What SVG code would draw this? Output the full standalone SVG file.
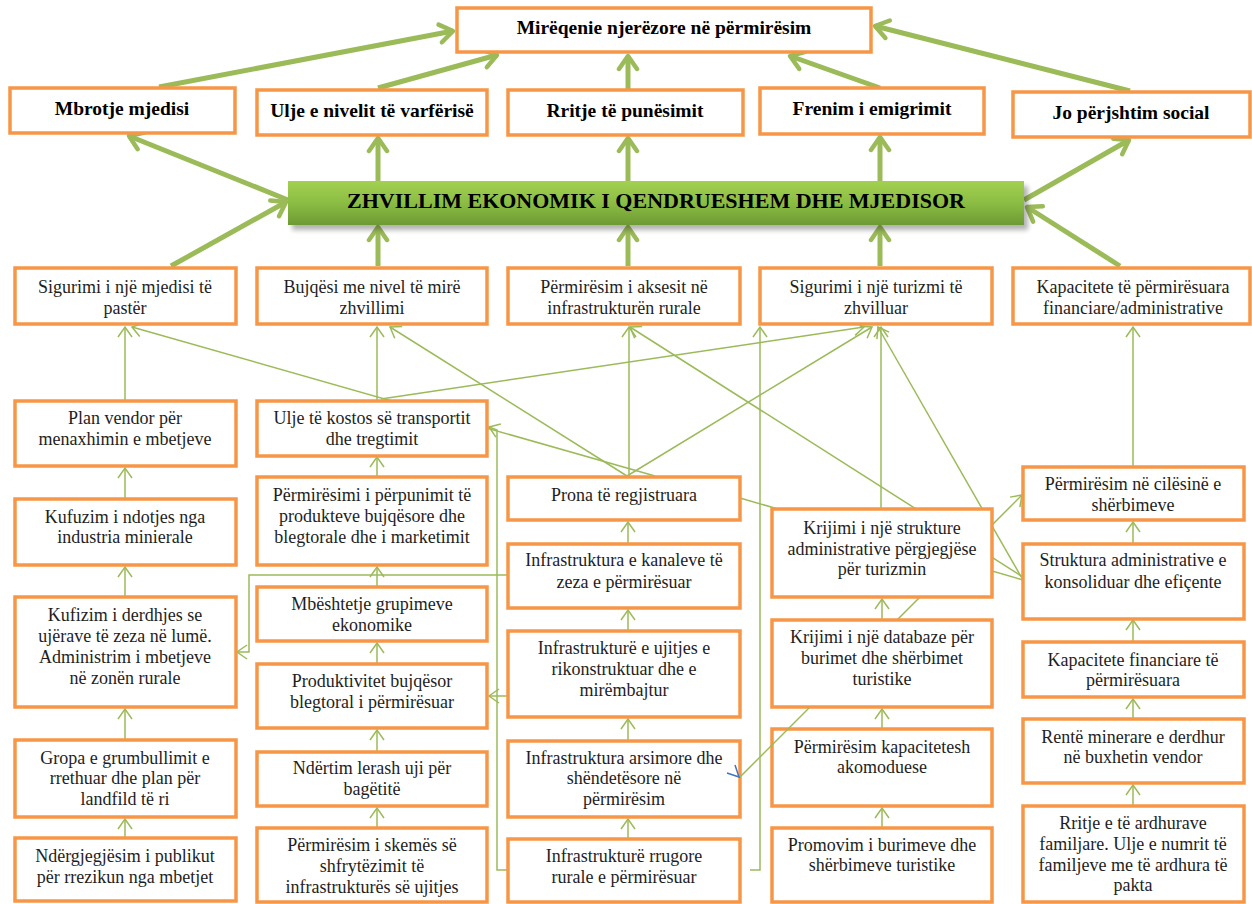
<svg xmlns="http://www.w3.org/2000/svg" width="1252" height="904" viewBox="0 0 1252 904">
<defs>
<style>
.box{fill:#fff;stroke:#f79646;stroke-width:3.5}
.t{font-family:"Liberation Serif","Times New Roman",serif;font-size:18px;fill:#1e1e1e;text-anchor:middle}
.tb{font-family:"Liberation Serif","Times New Roman",serif;font-size:19.5px;font-weight:bold;fill:#000;text-anchor:middle}
.tban{font-family:"Liberation Serif","Times New Roman",serif;font-size:22px;font-weight:bold;fill:#000;text-anchor:middle}
.thick{stroke:#9bbb59;stroke-width:5;fill:none;marker-end:url(#ahT)}
.thin{stroke:#9bbb59;stroke-width:1.5;fill:none;marker-end:url(#ah)}
.plain{stroke:#9bbb59;stroke-width:1.5;fill:none}
</style>
<marker id="ahT" markerUnits="userSpaceOnUse" markerWidth="20" markerHeight="24" viewBox="0 0 20 24" refX="16" refY="12" orient="auto">
<path d="M3,3 L16,12 L3,21" fill="none" stroke="#9bbb59" stroke-width="4.5" stroke-linecap="round" stroke-linejoin="round"/>
</marker>
<marker id="ah" markerUnits="userSpaceOnUse" markerWidth="14" markerHeight="16" viewBox="0 0 14 16" refX="12" refY="8" orient="auto">
<path d="M2,1 L12,8 L2,15" fill="none" stroke="#9bbb59" stroke-width="1.5"/>
</marker>
<linearGradient id="gban" x1="0" y1="0" x2="0" y2="1">
<stop offset="0" stop-color="#a3d050"/>
<stop offset="0.5" stop-color="#8bbd44"/>
<stop offset="1" stop-color="#6e9a34"/>
</linearGradient>
<filter id="blur" x="-5%" y="-30%" width="110%" height="160%">
<feGaussianBlur stdDeviation="2.5"/>
</filter>
</defs>
<rect width="1252" height="904" fill="#fff"/>

<g id="connectors">
<line class="thick" x1="159" y1="87" x2="453" y2="31"/>
<line class="thick" x1="378" y1="88" x2="497" y2="55"/>
<line class="thick" x1="628" y1="89" x2="628" y2="56"/>
<line class="thick" x1="880" y1="88" x2="790" y2="56"/>
<line class="thick" x1="1130" y1="91" x2="875" y2="26"/>
<line class="thick" x1="288" y1="200" x2="129" y2="136"/>
<line class="thick" x1="378" y1="181" x2="378" y2="138"/>
<line class="thick" x1="628" y1="181" x2="628" y2="138"/>
<line class="thick" x1="880" y1="181" x2="880" y2="137"/>
<line class="thick" x1="1024" y1="200" x2="1129" y2="140"/>
<line class="thick" x1="171" y1="266" x2="286" y2="202"/>
<line class="thick" x1="378" y1="266" x2="378" y2="227"/>
<line class="thick" x1="628" y1="266" x2="628" y2="227"/>
<line class="thick" x1="880" y1="266" x2="880" y2="227"/>
<line class="thick" x1="1120" y1="266" x2="1027" y2="207"/>
<line class="thin" x1="125" y1="400" x2="125" y2="327"/>
<line class="thin" x1="655" y1="476" x2="132" y2="327"/>
<line class="thin" x1="125" y1="498" x2="125" y2="468"/>
<line class="thin" x1="125" y1="597" x2="125" y2="567"/>
<line class="thin" x1="125" y1="739" x2="125" y2="709"/>
<line class="thin" x1="125" y1="837" x2="125" y2="819"/>
<line class="thin" x1="377" y1="400" x2="377" y2="327"/>
<line class="thin" x1="381" y1="399" x2="864" y2="327"/>
<line class="thin" x1="627" y1="476" x2="390" y2="327"/>
<line class="thin" x1="377" y1="476" x2="377" y2="457"/>
<line class="thin" x1="377" y1="586" x2="377" y2="567"/>
<line class="thin" x1="377" y1="663" x2="377" y2="643"/>
<line class="thin" x1="377" y1="751" x2="377" y2="730"/>
<line class="thin" x1="377" y1="827" x2="377" y2="808"/>
<polyline class="thin" points="508,575 249,575 249,652 237,652"/>
<line class="thin" x1="508" y1="696" x2="489" y2="696"/>
<polyline class="thin" points="508,870 497,870 497,430 489,427"/>
<line class="thin" x1="629" y1="476" x2="629" y2="327"/>
<line class="thin" x1="627" y1="476" x2="872" y2="327"/>
<line class="thin" x1="1023" y1="577" x2="630" y2="327"/>
<line class="thin" x1="628" y1="543" x2="628" y2="522"/>
<line class="thin" x1="628" y1="630" x2="628" y2="610"/>
<line class="thin" x1="628" y1="740" x2="628" y2="719"/>
<line class="thin" x1="628" y1="838" x2="628" y2="819"/>
<polyline class="thin" points="750,870 760,870 760,327"/>
<line class="thin" x1="881" y1="508" x2="881" y2="327"/>
<line class="thin" x1="1023" y1="580" x2="878" y2="327"/>
<line class="plain" x1="740" y1="498" x2="1023" y2="580"/>
<line class="thin" x1="882" y1="619" x2="882" y2="599"/>
<line class="thin" x1="882" y1="728" x2="882" y2="709"/>
<line class="thin" x1="882" y1="827" x2="882" y2="808"/>
<line class="thin" x1="810" y1="707" x2="1022" y2="495"/>
<line class="thin" x1="1133" y1="467" x2="1133" y2="327"/>
<line class="thin" x1="1133" y1="543" x2="1133" y2="522"/>
<line class="thin" x1="1133" y1="641" x2="1133" y2="620"/>
<line class="thin" x1="1133" y1="718" x2="1133" y2="699"/>
<line class="thin" x1="1133" y1="805" x2="1133" y2="785"/>
</g>

<g id="n-top"><rect class="box" x="457" y="8" width="414" height="44"/><text class="tb" x="664" y="34">Mirëqenie njerëzore në përmirësim</text></g>

<g id="n-mbrotje"><rect class="box" x="10" y="88" width="225" height="45"/><text class="tb" x="122" y="115">Mbrotje mjedisi</text></g>
<g id="n-varferi"><rect class="box" x="257" y="90" width="230" height="45"/><text class="tb" x="372" y="117">Ulje e nivelit të varfërisë</text></g>
<g id="n-punesim"><rect class="box" x="508" y="90" width="235" height="45"/><text class="tb" x="625" y="117">Rritje të punësimit</text></g>
<g id="n-emigrim"><rect class="box" x="760" y="88" width="224" height="46"/><text class="tb" x="872" y="115">Frenim i emigrimit</text></g>
<g id="n-social"><rect class="box" x="1013" y="92" width="237" height="45"/><text class="tb" x="1131" y="119">Jo përjshtim social</text></g>

<g id="n-banner">
<rect x="292" y="186" width="736" height="44" fill="#000" opacity="0.3" filter="url(#blur)"/>
<rect x="288" y="181" width="736" height="44" fill="url(#gban)"/>
<text class="tban" x="656" y="208">ZHVILLIM EKONOMIK I QENDRUESHEM DHE MJEDISOR</text>
</g>

<g id="n-mjedis"><rect class="box" x="15" y="268" width="221" height="56"/><text class="t" x="125" y="293">Sigurimi i një mjedisi të</text><text class="t" x="125" y="314">pastër</text></g>
<g id="n-bujqesi"><rect class="box" x="257" y="268" width="230" height="56"/><text class="t" x="372" y="293">Bujqësi me nivel të mirë</text><text class="t" x="372" y="314">zhvillimi</text></g>
<g id="n-aksesi"><rect class="box" x="508" y="268" width="232" height="56"/><text class="t" x="624" y="293">Përmirësim i aksesit në</text><text class="t" x="624" y="314">infrastrukturën rurale</text></g>
<g id="n-turizmi"><rect class="box" x="760" y="268" width="232" height="56"/><text class="t" x="876" y="293">Sigurimi i një turizmi të</text><text class="t" x="876" y="314">zhvilluar</text></g>
<g id="n-kapacitete"><rect class="box" x="1013" y="268" width="237" height="56"/><text class="t" x="1133" y="293">Kapacitete të përmirësuara</text><text class="t" x="1133" y="314">financiare/administrative</text></g>

<g id="n-planvendor"><rect class="box" x="15" y="401" width="221" height="65"/><text class="t" x="125" y="424">Plan vendor për</text><text class="t" x="125" y="445">menaxhimin e mbetjeve</text></g>
<g id="n-ndotje"><rect class="box" x="15" y="499" width="221" height="66"/><text class="t" x="125" y="523">Kufuzim i ndotjes nga</text><text class="t" x="125" y="543">industria minierale</text></g>
<g id="n-derdhje"><rect class="box" x="15" y="597" width="221" height="110"/><text class="t" x="125" y="621">Kufizim i derdhjes se</text><text class="t" x="125" y="642">ujërave të zeza në lumë.</text><text class="t" x="125" y="663">Administrim i mbetjeve</text><text class="t" x="125" y="684">në zonën rurale</text></g>
<g id="n-gropa"><rect class="box" x="15" y="740" width="221" height="77"/><text class="t" x="125" y="764">Gropa e grumbullimit e</text><text class="t" x="125" y="784">rrethuar dhe plan për</text><text class="t" x="125" y="805">landfild të ri</text></g>
<g id="n-ndergjegjesim"><rect class="box" x="15" y="838" width="221" height="63"/><text class="t" x="125" y="862">Ndërgjegjësim i publikut</text><text class="t" x="125" y="883">për rrezikun nga mbetjet</text></g>

<g id="n-kostos"><rect class="box" x="257" y="401" width="230" height="55"/><text class="t" x="372" y="424">Ulje të kostos së transportit</text><text class="t" x="372" y="445">dhe tregtimit</text></g>
<g id="n-perpunim"><rect class="box" x="257" y="477" width="230" height="88"/><text class="t" x="372" y="501">Përmirësimi i përpunimit të</text><text class="t" x="372" y="522">produkteve bujqësore dhe</text><text class="t" x="372" y="543">blegtorale dhe i marketimit</text></g>
<g id="n-grupime"><rect class="box" x="257" y="587" width="230" height="54"/><text class="t" x="372" y="610">Mbështetje grupimeve</text><text class="t" x="372" y="631">ekonomike</text></g>
<g id="n-produktivitet"><rect class="box" x="257" y="664" width="230" height="64"/><text class="t" x="372" y="687">Produktivitet bujqësor</text><text class="t" x="372" y="708">blegtoral i përmirësuar</text></g>
<g id="n-lerash"><rect class="box" x="257" y="752" width="230" height="54"/><text class="t" x="372" y="774">Ndërtim lerash uji për</text><text class="t" x="372" y="795">bagëtitë</text></g>
<g id="n-skemes"><rect class="box" x="257" y="828" width="230" height="74"/><text class="t" x="372" y="851">Përmirësim i skemës së</text><text class="t" x="372" y="872">shfrytëzimit të</text><text class="t" x="372" y="893">infrastrukturës së ujitjes</text></g>

<g id="n-prona"><rect class="box" x="508" y="477" width="232" height="43"/><text class="t" x="624" y="501">Prona të regjistruara</text></g>
<g id="n-kanale"><rect class="box" x="508" y="544" width="232" height="64"/><text class="t" x="624" y="566">Infrastruktura e kanaleve të</text><text class="t" x="624" y="588">zeza e përmirësuar</text></g>
<g id="n-ujitje"><rect class="box" x="508" y="631" width="232" height="86"/><text class="t" x="624" y="654">Infrastrukturë e ujitjes e</text><text class="t" x="624" y="675">rikonstruktuar dhe e</text><text class="t" x="624" y="696">mirëmbajtur</text></g>
<g id="n-arsim"><rect class="box" x="508" y="741" width="232" height="76"/><text class="t" x="624" y="764">Infrastruktura arsimore dhe</text><text class="t" x="624" y="784">shëndetësore në</text><text class="t" x="624" y="805">përmirësim</text></g>
<g id="n-rrugore"><rect class="box" x="508" y="839" width="232" height="63"/><text class="t" x="624" y="862">Infrastrukturë rrugore</text><text class="t" x="624" y="883">rurale e përmirësuar</text></g>

<g id="n-strukture"><rect class="box" x="772" y="509" width="220" height="88"/><text class="t" x="882" y="534">Krijimi i një strukture</text><text class="t" x="882" y="555">administrative përgjegjëse</text><text class="t" x="882" y="575">për turizmin</text></g>
<g id="n-databaze"><rect class="box" x="772" y="620" width="220" height="87"/><text class="t" x="882" y="643">Krijimi i një databaze për</text><text class="t" x="882" y="664">burimet dhe shërbimet</text><text class="t" x="882" y="685">turistike</text></g>
<g id="n-akomoduese"><rect class="box" x="772" y="729" width="220" height="77"/><text class="t" x="882" y="753">Përmirësim kapacitetesh</text><text class="t" x="882" y="773">akomoduese</text></g>
<g id="n-promovim"><rect class="box" x="772" y="828" width="220" height="74"/><text class="t" x="882" y="851">Promovim i burimeve dhe</text><text class="t" x="882" y="871">shërbimeve turistike</text></g>

<g id="n-cilesi"><rect class="box" x="1023" y="467" width="221" height="53"/><text class="t" x="1133" y="490">Përmirësim në cilësinë e</text><text class="t" x="1133" y="511">shërbimeve</text></g>
<g id="n-konsoliduar"><rect class="box" x="1023" y="544" width="221" height="75"/><text class="t" x="1133" y="566">Struktura administrative e</text><text class="t" x="1133" y="588">konsoliduar dhe efiçente</text></g>
<g id="n-financiare"><rect class="box" x="1023" y="642" width="221" height="55"/><text class="t" x="1133" y="666">Kapacitete financiare të</text><text class="t" x="1133" y="686">përmirësuara</text></g>
<g id="n-rente"><rect class="box" x="1023" y="719" width="221" height="64"/><text class="t" x="1133" y="743">Rentë minerare e derdhur</text><text class="t" x="1133" y="763">në buxhetin vendor</text></g>
<g id="n-ardhura"><rect class="box" x="1023" y="806" width="221" height="96"/><text class="t" x="1133" y="829">Rritje e të ardhurave</text><text class="t" x="1133" y="850">familjare. Ulje e numrit të</text><text class="t" x="1133" y="871">familjeve me të ardhura të</text><text class="t" x="1133" y="891">pakta</text></g>

<g id="connectors-over">
<line class="plain" x1="810" y1="707" x2="740" y2="777"/>
<polyline points="727,773 739,777 735,765" fill="none" stroke="#4472c4" stroke-width="1.5"/>
</g>
</svg>
